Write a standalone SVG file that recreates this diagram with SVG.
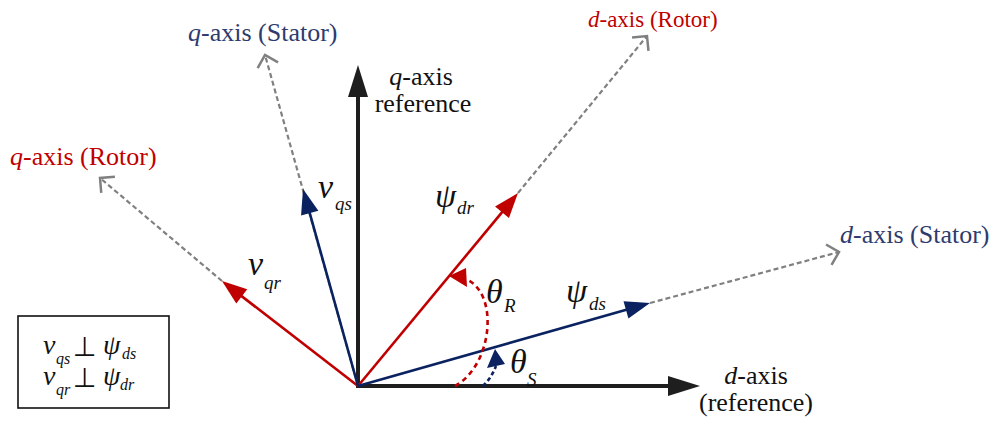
<svg xmlns="http://www.w3.org/2000/svg" width="998" height="423" viewBox="0 0 998 423">
<style>
text{font-family:"Liberation Serif","Times New Roman",serif;}
.lbl{font-size:26px;}
.it{font-style:italic;}
.red{fill:#c00000;}
.navy{fill:#2e3b6e;}
.blk{fill:#111;}
.m{font-style:italic;font-size:34px;fill:#111;}
.sub{font-style:italic;font-size:19px;fill:#111;}
.lm{font-style:italic;font-size:28px;fill:#111;}
.ls{font-style:italic;font-size:16px;fill:#111;}
.perp{font-family:"DejaVu Sans",sans-serif;font-size:27px;fill:#111;}
.dash{stroke:#808080;stroke-width:2.2;stroke-dasharray:5 3;fill:none;marker-end:url(#chev);}
.axis{stroke:#1e1e1e;stroke-width:4;marker-end:url(#ab);}
.rv{stroke:#c00000;stroke-width:2.6;marker-end:url(#ar);}
.bv{stroke:#0a2260;stroke-width:2.6;marker-end:url(#an);}
</style>
<defs>
<marker id="ab" markerUnits="userSpaceOnUse" viewBox="0 -10 32 20" refX="20" refY="0" markerWidth="32" markerHeight="20" orient="auto" overflow="visible"><path d="M0,-10 L32,0 L0,10 z" fill="#1e1e1e"/></marker>
<marker id="ar" markerUnits="userSpaceOnUse" viewBox="0 -9 25 18" refX="15" refY="0" markerWidth="25" markerHeight="18" orient="auto" overflow="visible"><path d="M0,-9 L25,0 L0,9 z" fill="#c00000"/></marker>
<marker id="an" markerUnits="userSpaceOnUse" viewBox="0 -9 25 18" refX="15" refY="0" markerWidth="25" markerHeight="18" orient="auto" overflow="visible"><path d="M0,-9 L25,0 L0,9 z" fill="#0a2260"/></marker>
<marker id="chev" markerUnits="userSpaceOnUse" viewBox="-13 -13 15 26" refX="0" refY="0" markerWidth="15" markerHeight="26" orient="auto" overflow="visible"><path d="M-10.6,-10.6 L0,0 L-10.6,10.6" fill="none" stroke="#808080" stroke-width="2.5"/></marker>
</defs>
<g id="connectors">
<line class="dash" x1="518" y1="193" x2="647" y2="36"/>
<line class="dash" x1="358" y1="386" x2="265" y2="55"/>
<line class="dash" x1="222" y1="281" x2="100" y2="178"/>
<line class="dash" x1="650" y1="303" x2="839" y2="252"/>
<line class="axis" x1="358" y1="388" x2="358" y2="77"/>
<line class="axis" x1="356" y1="386" x2="688" y2="386"/>
<line class="rv" x1="358" y1="386" x2="511.6" y2="200.7"/>
<line class="rv" x1="358" y1="386" x2="229.9" y2="287.1"/>
<line class="bv" x1="358" y1="386" x2="305.7" y2="198.6"/>
<line class="bv" x1="358" y1="386" x2="640.4" y2="305.7"/>
<path d="M455,386 C492,366 500,294 466,279" fill="none" stroke="#c00000" stroke-width="2.6" stroke-dasharray="5 4"/>
<polygon points="449,276 466,268 467,287" fill="#c00000"/>
<path d="M483,386 C488,381 492,376 496,366" fill="none" stroke="#0a2260" stroke-width="2.6" stroke-dasharray="4 3"/>
<polygon points="495,349 487,368 505,364" fill="#0a2260"/>
</g>
<g id="label-q-stator"><text class="lbl navy" x="188" y="41"><tspan class="it">q</tspan>-axis (Stator)</text></g>
<g id="label-q-ref"><text class="lbl blk" x="421" y="85" text-anchor="middle"><tspan class="it">q</tspan>-axis</text><text class="lbl blk" x="423" y="112" text-anchor="middle">reference</text></g>
<g id="label-d-rotor"><text class="red" style="font-size:23px" x="588" y="27"><tspan class="it">d</tspan>-axis (Rotor)</text></g>
<g id="label-q-rotor"><text class="lbl red" x="10" y="165"><tspan class="it">q</tspan>-axis (Rotor)</text></g>
<g id="label-d-stator"><text class="lbl navy" x="840" y="243"><tspan class="it">d</tspan>-axis (Stator)</text></g>
<g id="label-d-ref"><text class="lbl blk" x="756" y="384" text-anchor="middle"><tspan class="it">d</tspan>-axis</text><text class="lbl blk" x="756" y="411" text-anchor="middle">(reference)</text></g>
<g id="label-vqs"><text class="m" x="318" y="198">v</text><text class="sub" x="335" y="210">qs</text></g>
<g id="label-psidr"><text class="m" x="435" y="207">ψ</text><text class="sub" x="457" y="214">dr</text></g>
<g id="label-vqr"><text class="m" x="248" y="275">v</text><text class="sub" x="264" y="289">qr</text></g>
<g id="label-psids"><text class="m" x="566" y="302">ψ</text><text class="sub" x="589" y="310">ds</text></g>
<g id="label-thetaR"><text class="m" x="486" y="303">θ</text><text class="sub" x="504" y="312">R</text></g>
<g id="label-thetaS"><text class="m" x="510" y="373">θ</text><text class="sub" x="527" y="386">S</text></g>
<g id="legend">
<rect x="18" y="316" width="151" height="92" fill="#fff" stroke="#111" stroke-width="1.6"/>
<text class="lm" x="43" y="354">v</text><text class="ls" x="56" y="364">qs</text>
<text class="perp" x="73" y="356">⊥</text>
<text class="lm" x="103" y="354">ψ</text><text class="ls" x="122" y="359">ds</text>
<text class="lm" x="43" y="385">v</text><text class="ls" x="56" y="395">qr</text>
<text class="perp" x="73" y="387">⊥</text>
<text class="lm" x="103" y="385">ψ</text><text class="ls" x="120" y="390">dr</text>
</g>
</svg>
